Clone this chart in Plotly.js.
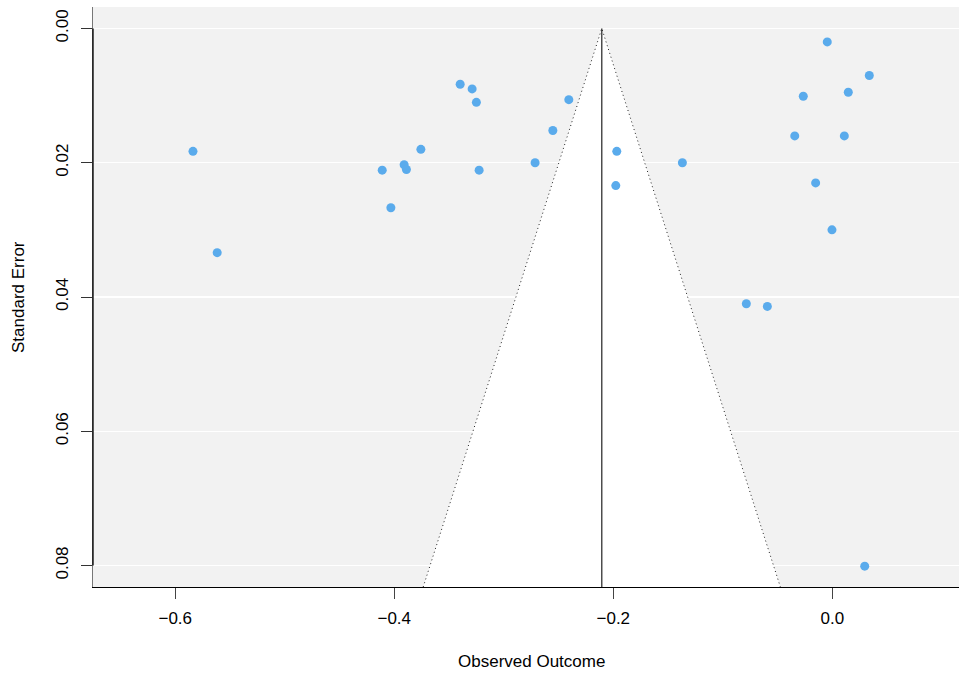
<!DOCTYPE html>
<html>
<head>
<meta charset="utf-8">
<script src="https://cdn.plot.ly/plotly-3.0.1.min.js"></script>
<style>
html,body{margin:0;padding:0;background:#fff;overflow:hidden;}
#chart{width:959px;height:677px;}
</style>
</head>
<body>
<div id="chart"></div>
<script>
// Observed outcomes (effect sizes) and their standard errors
var observedOutcome = [-0.5838, -0.5617, -0.4110, -0.3910, -0.3889, -0.4031, -0.3757,
  -0.3398, -0.3289, -0.3250, -0.3225, -0.2714, -0.2552, -0.2406,
  -0.1968, -0.1977, -0.1369, -0.0785, -0.0593, -0.0343, -0.0265,
  -0.0152, -0.0046, -0.0003, 0.0110, 0.0146, 0.0338, 0.0296];
var standardError = [0.0183, 0.0334, 0.0211, 0.0203, 0.0210, 0.0267, 0.0180,
  0.0083, 0.0090, 0.0110, 0.0211, 0.0200, 0.0152, 0.0106,
  0.0183, 0.0234, 0.0200, 0.0410, 0.0414, 0.0160, 0.0101,
  0.0230, 0.0020, 0.0300, 0.0160, 0.0095, 0.0070, 0.0801];
var pooledEstimate = -0.2105;
var xTickVals = [-0.6, -0.4, -0.2, 0.0];
var xTickText = ['\u22120.6', '\u22120.4', '\u22120.2', '0.0'];
var yTickVals = [0, 0.02, 0.04, 0.06, 0.08];
var yTickText = ['0.00', '0.02', '0.04', '0.06', '0.08'];

var xRange = [-0.6751, 0.1157];
var yRange = [0.0832, -0.0032];
var seBottom = yRange[0];
var z = 1.96;

var funnelX = [pooledEstimate - z * seBottom, pooledEstimate, pooledEstimate + z * seBottom];
var funnelY = [seBottom, 0, seBottom];

var traces = [
  {x: funnelX, y: funnelY, type: 'scatter', mode: 'lines', fill: 'toself',
   fillcolor: '#ffffff', line: {width: 0}, hoverinfo: 'skip', showlegend: false},
  {x: funnelX, y: funnelY, type: 'scatter', mode: 'lines',
   line: {color: '#222222', width: 1, dash: '1px,3px'}, hoverinfo: 'skip', showlegend: false},
  {x: [pooledEstimate, pooledEstimate], y: [0, seBottom], type: 'scatter', mode: 'lines',
   line: {color: '#333333', width: 1.3}, hoverinfo: 'skip', showlegend: false},
  {x: observedOutcome, y: standardError, type: 'scatter', mode: 'markers',
   marker: {color: '#5aabec', size: 9}, showlegend: false}
];

var font = {family: 'Liberation Sans, Arial, sans-serif', size: 17, color: '#000'};

var layout = {
  width: 959, height: 677,
  margin: {l: 93, r: 0, t: 7, b: 90},
  paper_bgcolor: '#ffffff',
  plot_bgcolor: '#f2f2f2',
  font: font,
  showlegend: false,
  xaxis: {
    range: xRange, showgrid: false, zeroline: false,
    tickvals: xTickVals, ticktext: xTickText,
    ticks: 'outside', ticklen: 11, tickcolor: '#444', tickwidth: 1,
    showline: true, linecolor: '#000', linewidth: 1.3,
    tickfont: font, ticklabelstandoff: 4
  },
  yaxis: {
    range: yRange, showgrid: true, gridcolor: '#ffffff', gridwidth: 1.3, zeroline: false,
    tickvals: yTickVals, ticktext: yTickText, tickangle: -90,
    ticks: 'outside', ticklen: 11, tickcolor: '#333', tickwidth: 1,
    showline: true, linecolor: '#777', linewidth: 1.3,
    tickfont: font, ticklabelstandoff: 6
  },
  shapes: [
    {type: 'line', xref: 'paper', yref: 'y', x0: 0, x1: 0, y0: yTickVals[0], y1: yTickVals[yTickVals.length - 1],
     line: {color: '#000', width: 1.3}}
  ],
  annotations: [
    {text: 'Observed Outcome', xref: 'paper', yref: 'paper', x: 0.5058, y: -0.1293,
     xanchor: 'center', yanchor: 'middle', showarrow: false, font: font},
    {text: 'Standard Error', xref: 'paper', yref: 'paper', x: -0.0866, y: 0.5,
     xanchor: 'center', yanchor: 'middle', textangle: -90, showarrow: false, font: font}
  ]
};

Plotly.newPlot('chart', traces, layout, {displayModeBar: false, staticPlot: true});
</script>
</body>
</html>
